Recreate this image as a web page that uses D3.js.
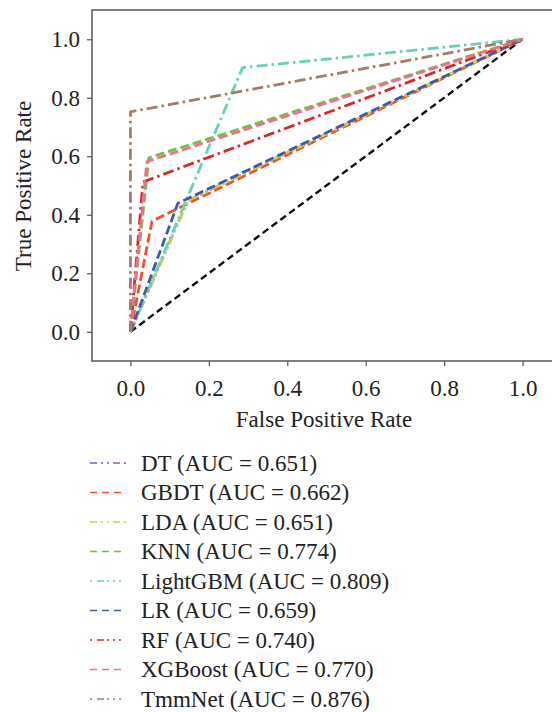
<!DOCTYPE html>
<html><head><meta charset="utf-8">
<script src="https://cdn.jsdelivr.net/npm/d3@7"></script>
<style>
html,body{margin:0;padding:0;background:#fff;}
svg{display:block;}
</style></head>
<body><svg id="c" width="552" height="712"></svg>
<script>
// ---- data ----
const models = ["DT","GBDT","LDA","KNN","LightGBM","LR","RF","XGBoost","TmmNet"];
const aucValues = ["0.651","0.662","0.651","0.774","0.809","0.659","0.740","0.770","0.876"];
const fprValues = [0.146, 0.055, 0.146, 0.047, 0.286, 0.121, 0.032, 0.042, 0.0];
const tprValues = [0.448, 0.378, 0.448, 0.595, 0.903, 0.439, 0.512, 0.582, 0.752];
const colors = ["#8a55b0","#f0502e","#c9d640","#6fc23e","#68cfba","#3f5aa8","#dd2626","#ee7090","#a67c66"];
const styles = ["dashdotdot","dashed","dashdotdot","dashed","dashdot","dashed","dashdot","dashed","dashdot"];
const xTicks = [0.0,0.2,0.4,0.6,0.8,1.0];
const yTicks = [0.0,0.2,0.4,0.6,0.8,1.0];

const FONT = "Liberation Serif";
const FS = 23;
const plotDash = {dashed:"9,4", dashdot:"11,4,2.5,4", dashdotdot:"10,3,2.5,3,2.5,3"};
const legendDash = {dashed:"7,5", dashdot:"2,5,7,3,2,4,2,4", dashdotdot:"7,4,2,4,2,4"};

const svg = d3.select("#c");
const L = 92, R = 561, T = 10, B = 361;
const x = d3.scaleLinear().domain([-0.098, 1.098]).range([L, R]);
const y = d3.scaleLinear().domain([-0.1, 1.1]).range([B, T]);

function styleText(sel){
  return sel.attr("font-family", FONT).style("font-family", FONT)
    .attr("font-size", FS).style("font-size", FS + "px").attr("fill", "#222");
}

// axes
const xAxis = svg.append("g").attr("transform", `translate(0,${B})`)
  .call(d3.axisBottom(x).tickValues(xTicks).tickFormat(d3.format(".1f")).tickSize(5).tickPadding(14));
const yAxis = svg.append("g").attr("transform", `translate(${L},0)`)
  .call(d3.axisLeft(y).tickValues(yTicks).tickFormat(d3.format(".1f")).tickSize(5).tickPadding(7));
[xAxis, yAxis].forEach(g => {
  g.attr("font-family", FONT).attr("font-size", FS);
  g.select(".domain").remove();
  g.selectAll(".tick line").attr("stroke", "#555").attr("stroke-width", 1.2);
  styleText(g.selectAll(".tick text"));
});

// diagonal
const line = d3.line().x(d => x(d[0])).y(d => y(d[1]));
svg.append("path").attr("d", line([[0,0],[1,1]]))
  .attr("fill","none").attr("stroke","#111").attr("stroke-width",2.4).attr("stroke-dasharray","7,4");

// ROC curves
models.forEach((m, i) => {
  const pts = [[0,0],[fprValues[i], tprValues[i]],[1,1]];
  svg.append("path").attr("d", line(pts))
    .attr("fill","none").attr("stroke", colors[i]).attr("stroke-width", 2.8)
    .attr("stroke-linejoin","round")
    .attr("stroke-dasharray", plotDash[styles[i]]);
});

// frame
svg.append("rect").attr("x", L).attr("y", T).attr("width", R - L).attr("height", B - T)
  .attr("fill","none").attr("stroke","#555").attr("stroke-width",1.5);

// axis labels
styleText(svg.append("text")).attr("x", 324).attr("y", 427).attr("text-anchor","middle")
  .text("False Positive Rate");
styleText(svg.append("text")).attr("transform","translate(31,186) rotate(-90)").attr("text-anchor","middle")
  .text("True Positive Rate");

// legend
const lg = svg.append("g");
models.forEach((m, i) => {
  const yy = 463 + i * 29.5;
  lg.append("line").attr("x1", 90).attr("x2", 126).attr("y1", yy).attr("y2", yy)
    .attr("stroke", colors[i]).attr("stroke-width", 1.3)
    .attr("stroke-dasharray", legendDash[styles[i]]);
  styleText(lg.append("text")).attr("x", 141).attr("y", yy + 7.5)
    .text(`${m} (AUC = ${aucValues[i]})`);
});
</script></body></html>
